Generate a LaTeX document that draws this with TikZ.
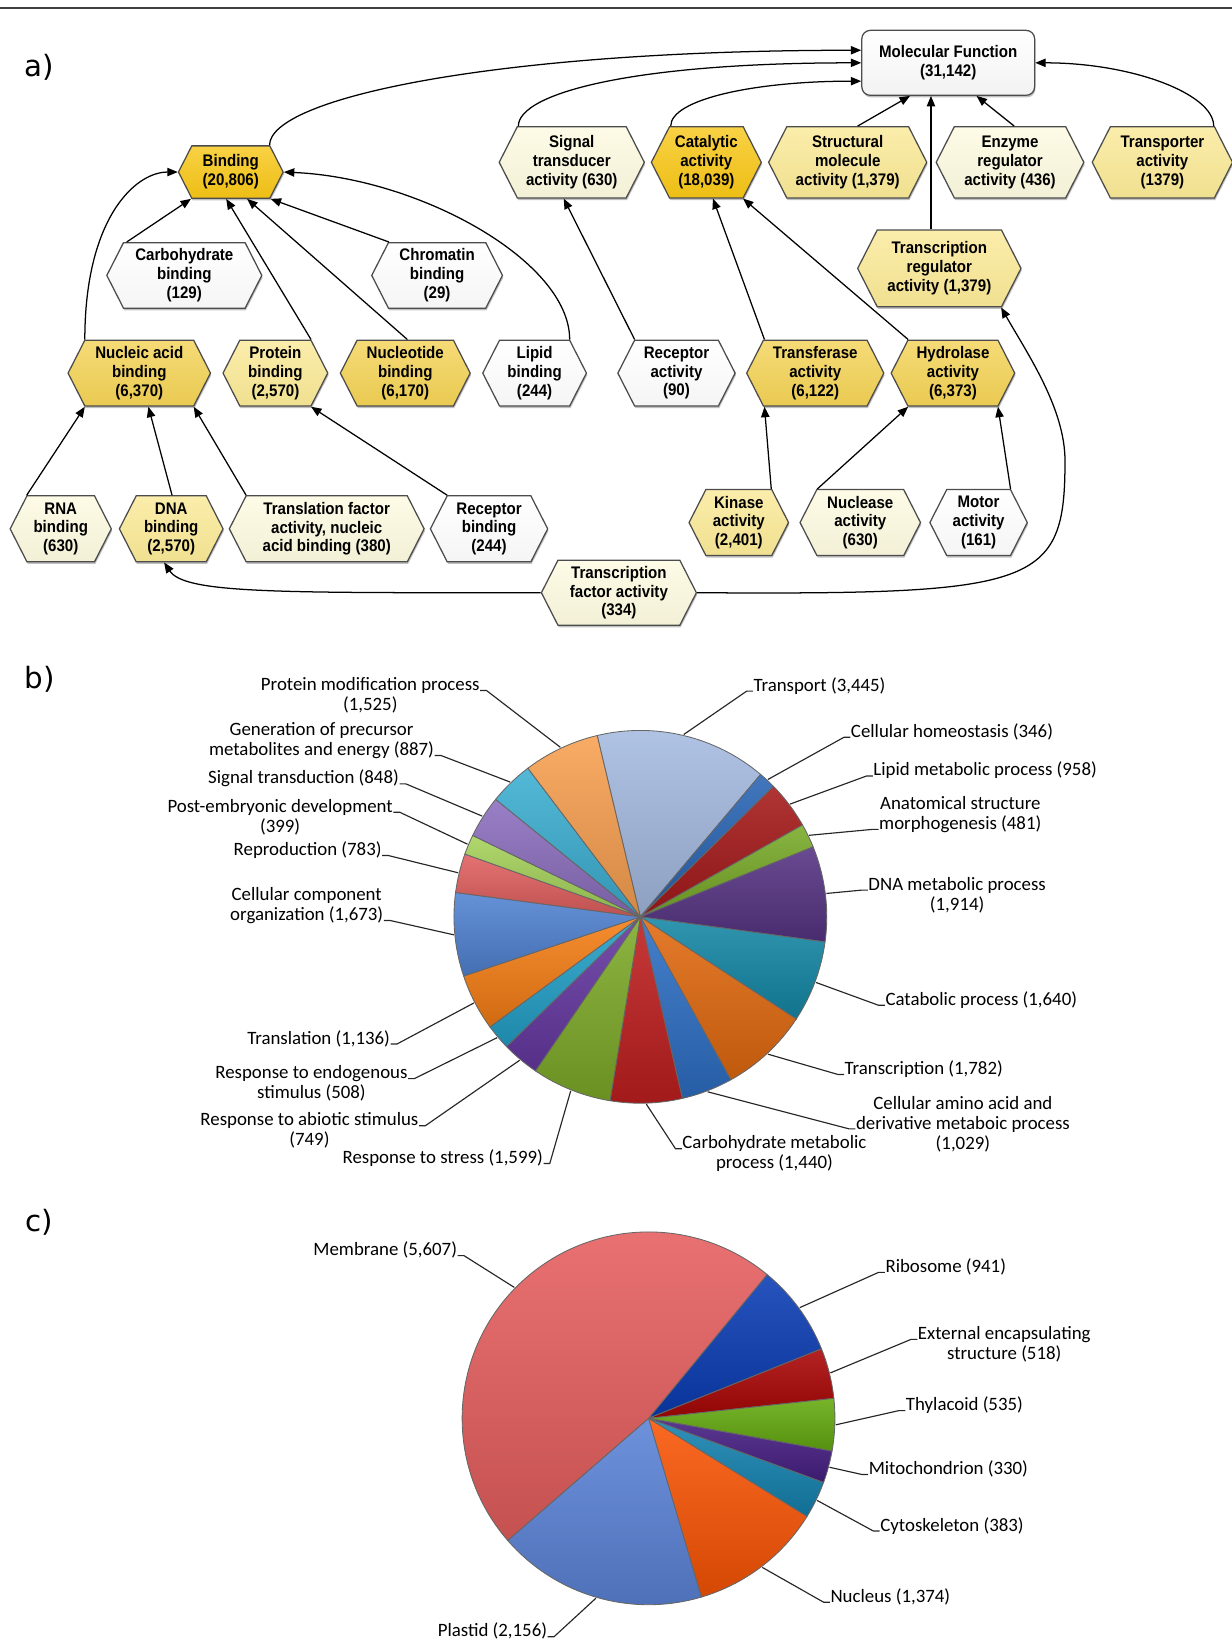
\documentclass[tikz,border=0pt]{standalone}
\usepackage{fontspec}
\usepackage{tikz}
\usetikzlibrary{shapes.symbols,shadows,arrows.meta,calc}
\newfontfamily\hexfont{Liberation Sans}[FakeStretch=0.9]
\newfontfamily\piefont{Carlito}
\newfontfamily\panelfont{DejaVu Sans}

\definecolor{hexgold}{RGB}{247,198,22}
\definecolor{hexmid}{RGB}{243,210,85}
\definecolor{hexlight}{RGB}{250,233,150}
\definecolor{hexpale}{RGB}{253,250,224}
\definecolor{hexwhite}{RGB}{255,255,255}
% pie b
\definecolor{pbtrans}{RGB}{166,188,226}
\definecolor{pbhomeo}{RGB}{40,100,180}
\definecolor{pblipid}{RGB}{165,25,25}
\definecolor{pbanat}{RGB}{120,170,40}
\definecolor{pbdna}{RGB}{85,50,130}
\definecolor{pbcatab}{RGB}{20,135,165}
\definecolor{pbtranscr}{RGB}{225,105,15}
\definecolor{pbamino}{RGB}{45,110,195}
\definecolor{pbcarbo}{RGB}{190,30,30}
\definecolor{pbstress}{RGB}{125,170,40}
\definecolor{pbabiotic}{RGB}{100,55,160}
\definecolor{pbendog}{RGB}{35,160,200}
\definecolor{pbtransl}{RGB}{245,125,20}
\definecolor{pbcellcomp}{RGB}{80,130,210}
\definecolor{pbrepro}{RGB}{225,95,95}
\definecolor{pbpostemb}{RGB}{165,210,90}
\definecolor{pbsignal}{RGB}{140,110,190}
\definecolor{pbgen}{RGB}{60,175,210}
\definecolor{pbprotmod}{RGB}{248,160,80}
% pie c
\definecolor{pcribo}{RGB}{10,60,180}
\definecolor{pcext}{RGB}{170,5,5}
\definecolor{pcthyl}{RGB}{100,170,15}
\definecolor{pcmito}{RGB}{70,30,130}
\definecolor{pccyto}{RGB}{20,130,175}
\definecolor{pcnucl}{RGB}{250,85,5}
\definecolor{pcplast}{RGB}{90,130,215}
\definecolor{pcmemb}{RGB}{232,95,95}

\tikzset{every picture/.style={line width=0.6pt}}
\tikzset{
  hexa/.style={shape=signal, signal to=east and west, signal pointer angle=126,
    draw=black!70, top color=#1!80!white, bottom color=#1!96!black,
    drop shadow={shadow xshift=0.4pt,shadow yshift=-1pt,fill=black!50},
    align=center, inner sep=0.5pt, font=\hexfont\bfseries\fontsize{8}{9}\selectfont},
  mfbox/.style={rectangle, rounded corners=4pt, draw=black!70, top color=white, bottom color=black!5,
    drop shadow={shadow xshift=0.4pt,shadow yshift=-1pt,fill=black!50},
    align=center, inner sep=1pt, font=\hexfont\bfseries\fontsize{8}{9}\selectfont},
  arr/.style={-{Triangle[length=5pt,width=4pt]}},
  slice/.style={draw=black!60, line width=0.4pt, top color=#1!88!white, bottom color=#1!85!black},
  leader/.style={draw=black!85, line width=0.55pt},
  pielabel/.style={inner sep=0pt, align=center, font=\piefont\fontsize{9}{9.6}\selectfont},
  panel/.style={inner sep=0pt, font=\panelfont\fontsize{14}{14}\selectfont},
}

\begin{document}
\begin{tikzpicture}[x=0.5pt,y=0.5pt,yscale=-1,xscale=1]
\useasboundingbox (0,0) rectangle (1176,1568);

%Straight Lines [top rule]
\draw [line width=1pt, draw=black!75] (0,8) -- (1176,8) ;

% Text Node
\node [panel] (pa) at (37.8,64.5) {a)};
% Text Node
\node [panel] (pbl) at (37.8,649) {b)};
% Text Node
\node [panel] (pcl) at (37.8,1167) {c)};

%Shape: Rounded Rectangle [Molecular Function]
\node [mfbox, minimum width=82.5pt, minimum height=31pt] (mf) at (905.5,60) {Molecular Function\\(31,142)};

%Shape: Hexagon [row 1]
\node [hexa=hexgold, minimum width=50pt, minimum height=25pt] (bind) at (220.4,164.3) {Binding\\(20,806)};
\node [hexa=hexpale, minimum width=69.3pt, minimum height=34pt] (sig) at (546,155) {Signal\\transducer\\activity (630)};
\node [hexa=hexgold, minimum width=52.5pt, minimum height=34pt] (cat) at (674.5,155) {Catalytic\\activity\\(18,039)};
\node [hexa=hexlight, minimum width=75.5pt, minimum height=34pt] (struc) at (809.5,155) {Structural\\molecule\\activity (1,379)};
\node [hexa=hexpale, minimum width=70.5pt, minimum height=34pt] (enz) at (964.5,155) {Enzyme\\regulator\\activity (436)};
\node [hexa=hexlight, minimum width=67pt, minimum height=34pt] (trans) at (1110,155) {Transporter\\activity\\(1379)};
\node [hexa=hexlight, minimum width=78pt, minimum height=36.7pt] (treg) at (897,256.3) {Transcription\\regulator\\activity (1,379)};
\node [hexa=hexwhite, minimum width=74pt, minimum height=31.3pt] (carb) at (176,263) {Carbohydrate\\binding\\(129)};
\node [hexa=hexwhite, minimum width=62.4pt, minimum height=31.3pt] (chrom) at (417.4,263) {Chromatin\\binding\\(29)};

%Shape: Hexagon [row 2]
\node [hexa=hexmid, minimum width=68pt, minimum height=31.5pt] (nab) at (133,356.3) {Nucleic acid\\binding\\(6,370)};
\node [hexa=hexlight, minimum width=50pt, minimum height=31.5pt] (prot) at (263,356.3) {Protein\\binding\\(2,570)};
\node [hexa=hexmid, minimum width=62pt, minimum height=31.5pt] (nucl) at (387,356.3) {Nucleotide\\binding\\(6,170)};
\node [hexa=hexwhite, minimum width=49.5pt, minimum height=31.5pt] (lip) at (510.5,356.3) {Lipid\\binding\\(244)};
\node [hexa=hexwhite, minimum width=56pt, minimum height=31.5pt] (rec) at (646,356.3) {Receptor\\activity\\(90)};
\node [hexa=hexmid, minimum width=65.5pt, minimum height=31.5pt] (transf) at (778.5,356.3) {Transferase\\activity\\(6,122)};
\node [hexa=hexmid, minimum width=59pt, minimum height=31.5pt] (hydro) at (910,356.3) {Hydrolase\\activity\\(6,373)};

%Shape: Hexagon [row 3]
\node [hexa=hexpale, minimum width=48.3pt, minimum height=31.5pt] (rna) at (58,505) {RNA\\binding\\(630)};
\node [hexa=hexlight, minimum width=49.5pt, minimum height=31.5pt] (dna) at (163.5,505) {DNA\\binding\\(2,570)};
\node [hexa=hexpale, minimum width=93pt, minimum height=31.5pt] (tlf) at (312,505) {Translation factor\\activity, nucleic\\acid binding (380)};
\node [hexa=hexwhite, minimum width=56pt, minimum height=31.5pt] (recb) at (467,505) {Receptor\\binding\\(244)};
\node [hexa=hexlight, minimum width=47.5pt, minimum height=31.5pt] (kin) at (705.5,499) {Kinase\\activity\\(2,401)};
\node [hexa=hexpale, minimum width=57.5pt, minimum height=31.5pt] (nuc) at (821.5,499) {Nuclease\\activity\\(630)};
\node [hexa=hexwhite, minimum width=46.5pt, minimum height=31.5pt] (mot) at (934.5,499) {Motor\\activity\\(161)};
\node [hexa=hexpale, minimum width=74pt, minimum height=31pt] (tfa) at (591,566) {Transcription\\factor activity\\(334)};

%Curve Lines
\draw [arr] ($(bind.north)+(37,0)$) .. controls +(0,-45) and +(-350,0) .. ($(mf.west)+(0,-12)$) ;
\draw [arr] ($(sig.north)+(-51,0)$) .. controls +(0,-31) and +(-220,0) .. (mf.west) ;
\draw [arr] ($(cat.north)+(-34,0)$) .. controls +(0,-26) and +(-100,0) .. ($(mf.west)+(0,17.5)$) ;
\draw [arr] ($(trans.north)+(49,0)$) .. controls +(0,-31) and +(92,0) .. (mf.east) ;
%Straight Lines
\draw [arr] ($(struc.north)+(9.5,0)$) -- ($(mf.south)+(-36.5,0)$) ;
\draw [arr] ($(treg.north)+(-8,0)$) -- ($(mf.south)+(-16.5,0)$) ;
\draw [arr] ($(enz.north)+(4,0)$) -- ($(mf.south)+(27,0)$) ;

%Curve Lines
\draw [arr] ($(nab.north)+(-52,0)$) .. controls +(0,-115) and +(-41,0) .. (bind.west) ;
\draw [arr] ($(lip.north)+(33.5,0)$) .. controls +(0,-75) and +(129,5.5) .. (bind.east) ;
%Straight Lines
\draw [arr] ($(carb.north)+(-55,0)$) -- ($(bind.south)+(-38,0)$) ;
\draw [arr] ($(prot.north)+(34,0)$) -- ($(bind.south)+(-4.4,0)$) ;
\draw [arr] ($(nucl.north)+(2,0)$) -- ($(bind.south)+(15.6,0)$) ;
\draw [arr] ($(chrom.north)+(-46,0)$) -- ($(bind.south)+(38,0)$) ;
\draw [arr] ($(transf.north)+(-48.5,0)$) -- ($(cat.south)+(6.3,0)$) ;
\draw [arr] ($(hydro.north)+(-42.8,0)$) -- ($(cat.south)+(35,0)$) ;
\draw [arr] ($(rec.north)+(-40,0)$) -- ($(sig.south)+(-7.7,0)$) ;
\draw [arr] ($(rna.north)+(-32.5,0)$) -- ($(nab.south)+(-52,0)$) ;
\draw [arr] ($(dna.north)+(0.8,0)$) -- ($(nab.south)+(8.7,0)$) ;
\draw [arr] ($(tlf.north)+(-77,0)$) -- ($(nab.south)+(52,0)$) ;
\draw [arr] ($(recb.north)+(-40,0)$) -- ($(prot.south)+(34,0)$) ;
\draw [arr] ($(kin.north)+(31,0)$) -- ($(transf.south)+(-48.5,0)$) ;
\draw [arr] ($(nuc.north)+(-41,0)$) -- ($(hydro.south)+(-42.8,0)$) ;
\draw [arr] ($(mot.north)+(30.5,0)$) -- ($(hydro.south)+(43,0)$) ;
%Curve Lines
\coordinate (trbend) at (1017,440);
\draw [arr] (tfa.west) .. controls +(-250,0) and +(20,30) .. ($(dna.south)+(-6.8,0)$) ;
\draw [arr] (tfa.east) .. controls +(325,2) and +(0,120) .. (trbend) .. controls +(0,-50) and +(25,44) .. ($(treg.south)+(59,0)$) ;

%Shape: Pie [biological process]
\coordinate (pb) at (611.5,875.5);
\foreach \sa/\sb/\col in {-103.4/-49.81/pbtrans, -49.81/-44.43/pbhomeo, -44.43/-29.52/pblipid,
    -29.52/-22.04/pbanat, -22.04/7.73/pbdna, 7.73/33.25/pbcatab, 33.25/60.97/pbtranscr,
    60.97/76.97/pbamino, 76.97/99.37/pbcarbo, 99.37/124.25/pbstress, 124.25/135.90/pbabiotic,
    135.90/143.80/pbendog, 143.80/161.47/pbtransl, 161.47/187.50/pbcellcomp, 187.50/199.68/pbrepro,
    199.68/205.89/pbpostemb, 205.89/219.08/pbsignal, 219.08/232.88/pbgen, 232.88/256.6/pbprotmod}
  \draw [slice=\col] (pb) -- ++(\sa:178) arc [start angle=\sa, end angle=\sb, radius=178] -- cycle ;

% Text Node
\node [pielabel, anchor=base west] (ltransport) at (719,660) {Transport (3,445)};
\node [pielabel, anchor=base west] (lhomeo) at (812,704) {Cellular homeostasis (346)};
\node [pielabel, anchor=base west] (llipid) at (833.5,741) {Lipid metabolic process (958)};
\node [pielabel, anchor=north] (lanat) at (917,760) {Anatomical structure\\morphogenesis (481)};
\node [pielabel, anchor=north] (ldnamet) at (914,837) {DNA metabolic process\\(1,914)};
\node [pielabel, anchor=base west] (lcatab) at (845,960) {Catabolic process (1,640)};
\node [pielabel, anchor=base west] (ltranscr) at (806,1026) {Transcription (1,782)};
\node [pielabel, anchor=north] (lamino) at (919.5,1046) {Cellular amino acid and\\derivative metaboic process\\(1,029)};
\node [pielabel, anchor=north] (lcarbo) at (739.5,1084) {Carbohydrate metabolic\\process (1,440)};
\node [pielabel, anchor=base east] (lstress) at (519,1111) {Response to stress (1,599)};
\node [pielabel, anchor=north] (labiotic) at (295.5,1062) {Response to abiotic stimulus\\(749)};
\node [pielabel, anchor=north] (lendog) at (297.4,1017) {Response to endogenous\\stimulus (508)};
\node [pielabel, anchor=base east] (ltransl) at (373,997) {Translation (1,136)};
\node [pielabel, anchor=north] (lcellcomp) at (292.9,847) {Cellular component\\organization (1,673)};
\node [pielabel, anchor=base east] (lrepro) at (365,817) {Reproduction (783)};
\node [pielabel, anchor=north] (lpostemb) at (267.5,762.6) {Post-embryonic development\\(399)};
\node [pielabel, anchor=base east] (lsignal) at (381.5,748.5) {Signal transduction (848)};
\node [pielabel, anchor=north] (lgen) at (307,689.4) {Generation of precursor\\metabolites and energy (887)};
\node [pielabel, anchor=north] (lprotmod) at (353.6,646.4) {Protein modification process\\(1,525)};

%Straight Lines [leaders b]
\draw [leader] ($(pb)+(-76.61:179)$) -- ([xshift=-3pt]ltransport.base west) -- (ltransport.base west) ;
\draw [leader] ($(pb)+(-47.12:179)$) -- ([xshift=-3pt]lhomeo.base west) -- (lhomeo.base west) ;
\draw [leader] ($(pb)+(-36.98:179)$) -- ([xshift=-3pt]llipid.base west) -- (llipid.base west) ;
\draw [leader] ($(pb)+(-25.78:179)$) -- ($(lanat.north west)+(-6,32)$) -- ($(lanat.north west)+(0,32)$) ;
\draw [leader] ($(pb)+(-7.16:179)$) -- ($(ldnamet.north west)+(-6,13)$) -- ($(ldnamet.north west)+(0,13)$) ;
\draw [leader] ($(pb)+(20.49:179)$) -- ([xshift=-3pt]lcatab.base west) -- (lcatab.base west) ;
\draw [leader] ($(pb)+(47.11:179)$) -- ([xshift=-3pt]ltranscr.base west) -- (ltranscr.base west) ;
\draw [leader] ($(pb)+(68.97:179)$) -- ($(lamino.north west)+(-6,32)$) -- ($(lamino.north west)+(0,32)$) ;
\draw [leader] ($(pb)+(88.17:179)$) -- ($(lcarbo.north west)+(-6,13)$) -- ($(lcarbo.north west)+(0,13)$) ;
\draw [leader] ($(pb)+(111.81:179)$) -- ([xshift=3pt]lstress.base east) -- (lstress.base east) ;
\draw [leader] ($(pb)+(130.08:179)$) -- ($(labiotic.north east)+(6,13)$) -- ($(labiotic.north east)+(0,13)$) ;
\draw [leader] ($(pb)+(139.85:179)$) -- ($(lendog.north east)+(6,13)$) -- ($(lendog.north east)+(0,13)$) ;
\draw [leader] ($(pb)+(152.64:179)$) -- ([xshift=3pt]ltransl.base east) -- (ltransl.base east) ;
\draw [leader] ($(pb)+(174.49:179)$) -- ($(lcellcomp.north east)+(6,32)$) -- ($(lcellcomp.north east)+(0,32)$) ;
\draw [leader] ($(pb)+(193.59:179)$) -- ([xshift=3pt]lrepro.base east) -- (lrepro.base east) ;
\draw [leader] ($(pb)+(202.79:179)$) -- ($(lpostemb.north east)+(6,13)$) -- ($(lpostemb.north east)+(0,13)$) ;
\draw [leader] ($(pb)+(212.49:179)$) -- ([xshift=3pt]lsignal.base east) -- (lsignal.base east) ;
\draw [leader] ($(pb)+(225.98:179)$) -- ($(lgen.north east)+(6,32)$) -- ($(lgen.north east)+(0,32)$) ;
\draw [leader] ($(pb)+(244.74:179)$) -- ($(lprotmod.north east)+(6,13)$) -- ($(lprotmod.north east)+(0,13)$) ;

%Shape: Pie [cellular component]
\coordinate (pc) at (619.3,1354.4);
\foreach \sa/\sb/\col in {-50.5/-21.90/pcribo, -21.90/-6.15/pcext, -6.15/10.11/pcthyl,
    10.11/20.14/pcmito, 20.14/31.78/pccyto, 31.78/73.54/pcnucl, 73.54/139.07/pcplast, 139.07/309.5/pcmemb}
  \draw [slice=\col] (pc) -- ++(\sa:178) arc [start angle=\sa, end angle=\sb, radius=178] -- cycle ;

% Text Node
\node [pielabel, anchor=base east] (lmembrane) at (437,1199) {Membrane (5,607)};
\node [pielabel, anchor=base west] (lribosome) at (845,1215) {Ribosome (941)};
\node [pielabel, anchor=north] (lexternal) at (959,1266) {External encapsulating\\structure (518)};
\node [pielabel, anchor=base west] (lthylacoid) at (864.5,1347) {Thylacoid (535)};
\node [pielabel, anchor=base west] (lmito) at (829,1408) {Mitochondrion (330)};
\node [pielabel, anchor=base west] (lcyto) at (840,1462) {Cytoskeleton (383)};
\node [pielabel, anchor=base west] (lnucleus) at (792.5,1530) {Nucleus (1,374)};
\node [pielabel, anchor=base east] (lplastid) at (523,1563) {Plastid (2,156)};

%Straight Lines [leaders c]
\draw [leader] ($(pc)+(224.29:179)$) -- ([xshift=3pt]lmembrane.base east) -- (lmembrane.base east) ;
\draw [leader] ($(pc)+(-36.2:179)$) -- ([xshift=-3pt]lribosome.base west) -- (lribosome.base west) ;
\draw [leader] ($(pc)+(-14.03:179)$) -- ($(lexternal.north west)+(-6,13)$) -- ($(lexternal.north west)+(0,13)$) ;
\draw [leader] ($(pc)+(1.98:179)$) -- ([xshift=-3pt]lthylacoid.base west) -- (lthylacoid.base west) ;
\draw [leader] ($(pc)+(15.13:179)$) -- ([xshift=-3pt]lmito.base west) -- (lmito.base west) ;
\draw [leader] ($(pc)+(25.96:179)$) -- ([xshift=-3pt]lcyto.base west) -- (lcyto.base west) ;
\draw [leader] ($(pc)+(52.66:179)$) -- ([xshift=-3pt]lnucleus.base west) -- (lnucleus.base west) ;
\draw [leader] ($(pc)+(106.31:179)$) -- ([xshift=3pt]lplastid.base east) -- (lplastid.base east) ;

\end{tikzpicture}
\end{document}
